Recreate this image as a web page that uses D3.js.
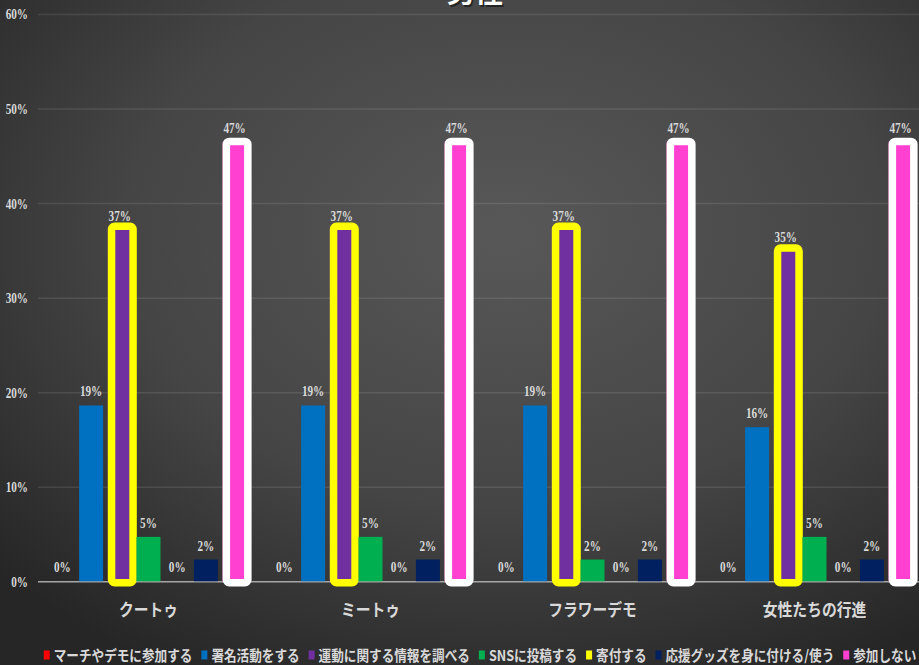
<!DOCTYPE html>
<html>
<head>
<meta charset="utf-8">
<script src="https://cdn.jsdelivr.net/npm/d3@7"></script>
<style>
  html, body { margin: 0; padding: 0; background: #2e2e2e; overflow: hidden; }
  svg { display: block; }
</style>
</head>
<body>
<svg id="chart" width="919" height="665"></svg>
<script>
// ---------- data ----------
const title = "男性";
const categories = ["クートゥ", "ミートゥ", "フラワーデモ", "女性たちの行進"];
const seriesNames = ["マーチやデモに参加する", "署名活動をする", "運動に関する情報を調べる", "SNSに投稿する", "寄付する", "応援グッズを身に付ける/使う", "参加しない"];
const seriesColors = ["#ff0000", "#0070c0", "#7030a0", "#00b050", "#ffff00", "#002060", "#ff40d0"];
const marchDemo      = [0, 0, 0, 0];
const signature      = [18.6, 18.6, 18.6, 16.3];
const infoSearch     = [37.2, 37.2, 37.2, 34.9];
const snsPost        = [4.7, 4.7, 2.3, 4.7];
const donate         = [0, 0, 0, 0];
const goods          = [2.3, 2.3, 2.3, 2.3];
const noParticipation = [46.5, 46.5, 46.5, 46.5];
const seriesValues = [marchDemo, signature, infoSearch, snsPost, donate, goods, noParticipation];
const highlightColor = { 2: "#ffff00", 6: "#ffffff" };
const yTickValues = [0, 10, 20, 30, 40, 50, 60];

// ---------- setup ----------
const W = 919, H = 665;
const svg = d3.select("#chart");
const jp = "'Noto Sans CJK JP', 'Noto Sans', sans-serif";
const serif = "'Liberation Serif', 'DejaVu Serif', serif";

const defs = svg.append("defs");
const bg = defs.append("radialGradient").attr("id", "bg")
  .attr("cx", "55%").attr("cy", "35%").attr("r", "75%");
bg.append("stop").attr("offset", "0%").attr("stop-color", "#585858");
bg.append("stop").attr("offset", "55%").attr("stop-color", "#454545");
bg.append("stop").attr("offset", "100%").attr("stop-color", "#262626");
svg.append("rect").attr("width", W).attr("height", H).attr("fill", "url(#bg)");

const plotLeft = 38, plotRight = W;
const y = d3.scaleLinear().domain([0, 60]).range([581.3, 14]);
const x0 = d3.scaleBand().domain(categories).range([37.5, 925.5]).paddingInner(0).paddingOuter(0);
const x1 = d3.scaleBand().domain(d3.range(seriesNames.length)).range([0, x0.bandwidth()])
  .paddingInner(0.164).paddingOuter(0.45);

// ---------- axis & grid ----------
const yAxis = d3.axisLeft(y).tickValues(yTickValues).tickFormat(d => d + "%")
  .tickSize(-(plotRight - plotLeft)).tickPadding(10);
const gAxis = svg.append("g").attr("transform", `translate(${plotLeft},0)`).call(yAxis);
gAxis.select(".domain").remove();
gAxis.selectAll(".tick line")
  .attr("stroke", d => d === 0 ? "#a6a6a6" : "#ffffff")
  .attr("stroke-opacity", d => d === 0 ? 1 : 0.1)
  .attr("stroke-width", 1.5);
gAxis.selectAll(".tick text")
  .attr("fill", "#d9d9d9")
  .attr("font-family", serif).attr("font-weight", "bold").attr("font-size", 14)
  .attr("x", null).attr("dy", "0.35em")
  .attr("text-anchor", "end")
  .attr("transform", "translate(-10,0) scale(0.8,1)");

// ---------- bars ----------
const groups = svg.append("g").selectAll("g").data(categories).join("g")
  .attr("transform", d => `translate(${x0(d)},0)`);

const cells = groups.selectAll("g.cell")
  .data((cat, ci) => seriesValues.map((vals, si) => ({ si, v: vals[ci] })))
  .join("g").attr("class", "cell");

cells.append("rect")
  .attr("x", d => x1(d.si))
  .attr("width", x1.bandwidth())
  .attr("y", d => y(d.v))
  .attr("height", d => y(0) - y(d.v))
  .attr("fill", d => seriesColors[d.si]);

// value labels
cells.append("text")
  .attr("transform", d => `translate(${x1(d.si) + x1.bandwidth() / 2},${y(d.v) - 9}) scale(0.8,1)`)
  .attr("text-anchor", "middle")
  .attr("fill", "#d9d9d9")
  .attr("font-family", serif).attr("font-weight", "bold").attr("font-size", 14)
  .text(d => Math.round(d.v) + "%");

// highlight frames (hand-drawn style rounded outlines)
const sw = 7.5;
const frameTopPad = { 2: 7, 6: 4 };
cells.filter(d => highlightColor[d.si] !== undefined)
  .append("rect")
  .attr("x", d => x1(d.si) + sw / 2)
  .attr("width", 29 - sw)
  .attr("y", d => y(d.v) - frameTopPad[d.si] + sw / 2)
  .attr("height", d => (y(0) + 1.5) - (y(d.v) - frameTopPad[d.si] + sw / 2))
  .attr("rx", 3).attr("ry", 3)
  .attr("fill", "none")
  .attr("stroke", d => highlightColor[d.si])
  .attr("stroke-width", sw)
  .attr("stroke-linejoin", "round");

// ---------- category labels ----------
svg.append("g").selectAll("text").data(categories).join("text")
  .attr("transform", d => `translate(${x0(d) + x0.bandwidth() / 2},616) scale(0.87,1)`)
  .attr("text-anchor", "middle")
  .attr("fill", "#d9d9d9")
  .attr("font-family", jp).attr("font-weight", "bold").attr("font-size", 17)
  .text(d => d);

// ---------- title (cut at top edge as in reference) ----------
svg.append("text").attr("x", 475).attr("y", 3).attr("text-anchor", "middle")
  .attr("fill", "#000").attr("fill-opacity", 0.5)
  .attr("font-family", jp).attr("font-weight", "bold").attr("font-size", 28)
  .attr("dx", 1.5).attr("dy", 1.5).text(title);
svg.append("text").attr("x", 475).attr("y", 3).attr("text-anchor", "middle")
  .attr("fill", "#ffffff")
  .attr("font-family", jp).attr("font-weight", "bold").attr("font-size", 28)
  .text(title);

// ---------- legend ----------
const legendSX = 0.87, legendFont = 14.5, markW = 6, markH = 9, markGap = 4, itemGap = 9;
const legend = svg.append("g");
const items = legend.selectAll("g").data(seriesNames).join("g");
items.append("rect").attr("width", markW).attr("height", markH)
  .attr("y", -10.5).attr("fill", (d, i) => seriesColors[i]);
items.append("text")
  .attr("transform", `translate(${markW + markGap},0) scale(${legendSX},1)`)
  .attr("fill", "#d9d9d9")
  .attr("font-family", jp).attr("font-weight", "bold").attr("font-size", legendFont)
  .text(d => d);
const widths = [];
items.each(function () {
  const t = d3.select(this).select("text").node();
  widths.push(markW + markGap + t.getComputedTextLength() * legendSX);
});
const total = d3.sum(widths) + itemGap * (widths.length - 1);
let cx = 480 - total / 2;
items.each(function (d, i) {
  d3.select(this).attr("transform", `translate(${cx},661)`);
  cx += widths[i] + itemGap;
});
</script>
</body>
</html>
